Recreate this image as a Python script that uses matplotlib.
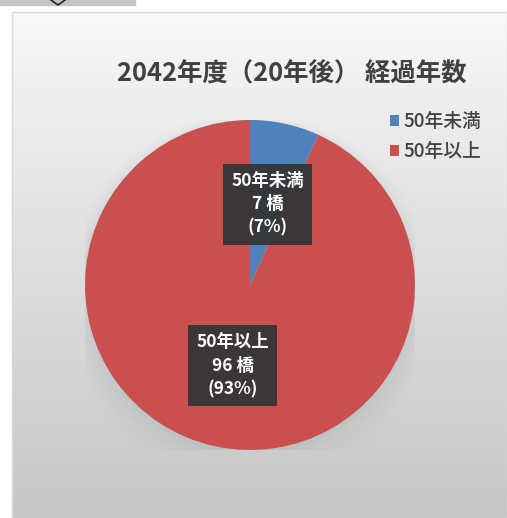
import numpy as np
import matplotlib.pyplot as plt
from matplotlib.patches import Rectangle, Circle

plt.rcParams['font.family'] = ['Noto Sans CJK JP', 'DejaVu Sans']

title = "2042年度（20年後） 経過年数"
categories = ["50年未満", "50年以上"]
counts = [7, 96]
colors = ["#4F81BD", "#C9504F"]

W, H = 507, 518
fig = plt.figure(figsize=(W / 100, H / 100), dpi=100)

# background: white page, gradient chart panel
bg = fig.add_axes([0, 0, 1, 1])
bg.set_xlim(0, W)
bg.set_ylim(H, 0)
bg.axis("off")
grad = np.linspace(0, 1, 256).reshape(-1, 1)
top = np.array([0.975, 0.975, 0.975])
bot = np.array([0.78, 0.78, 0.78])
img = top + (bot - top) * grad[..., None] ** 0.9
bg.imshow(img, extent=[12, W, H, 12], aspect="auto", zorder=0)
bg.add_patch(Rectangle((12, 12), W - 12, H - 12, fill=False, ec="#d8d8d8", lw=1, zorder=1))
# grey tab at top-left with chevron
bg.add_patch(Rectangle((0, 0), 135, 5, color="#c4c4c4", zorder=1))
bg.plot([51, 58, 65], [0, 5, 0], color="#222222", lw=1.2, zorder=2)

# pie
ax = fig.add_axes([(250 - 165) / W, (H - 285 - 165) / H, 330 / W, 330 / H])
# soft shadow
for i, a in enumerate(np.linspace(0.05, 0.01, 6)):
    ax.add_patch(Circle((0, -0.03 - i * 0.01), 1.0 + i * 0.025, color="#8a9aa8", alpha=a, lw=0, zorder=0))

total = sum(counts)
labels = [f"{c}\n{n} 橋\n({round(n / total * 100)}%)" for c, n in zip(categories, counts)]
wedges, texts = ax.pie(counts, colors=colors, startangle=90, counterclock=False,
                       labels=labels, labeldistance=0.5,
                       wedgeprops=dict(lw=0), textprops=dict(color="white", fontsize=12.5,
                                                             fontweight="bold", ha="center",
                                                             va="center", linespacing=1.4))
for t in texts:
    t.set_bbox(dict(boxstyle="square,pad=0.45", fc="#353535", ec="none", alpha=0.95))
    t.set_zorder(5)
ax.set_xlim(-1.0, 1.0)
ax.set_ylim(-1.0, 1.0)
ax.set_aspect("equal")
ax.axis("off")

fig.text(292 / W, 1 - 73 / H, title, ha="center", va="center", fontsize=18.3,
         fontweight="bold", color="#404040")

leg = fig.legend(wedges, categories, loc="upper left", bbox_to_anchor=(373 / W, 1 - 95 / H),
                 frameon=False, handlelength=0.5, handleheight=0.5,
                 handletextpad=0.25, labelspacing=0.6, labelcolor="#404040",
                 prop=dict(weight="medium", size=13.5))

fig.savefig("out.png", dpi=100)
